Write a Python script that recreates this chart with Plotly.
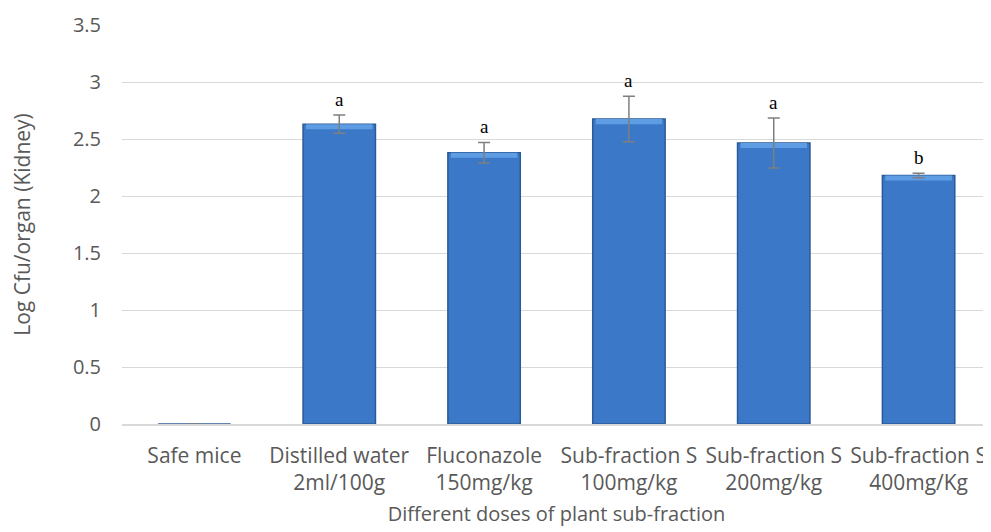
import plotly.graph_objects as go

categories = ["Safe mice", "Distilled water<br>2ml/100g", "Fluconazole<br>150mg/kg",
              "Sub-fraction S<br>100mg/kg", "Sub-fraction S<br>200mg/kg", "Sub-fraction S<br>400mg/Kg"]
means = [0, 2.63, 2.38, 2.675, 2.465, 2.18]
errors = [0, 0.08, 0.09, 0.20, 0.22, 0.02]
letters = ["", "a", "a", "a", "a", "b"]

bevel = 0.045
hl_base = [m - bevel if m > 0 else 0 for m in means]
hl_h = [bevel if m > 0 else 0 for m in means]

fig = go.Figure()
fig.add_trace(go.Bar(
    x=categories, y=means,
    marker=dict(color="#3b78c8", line=dict(color="#2c5a96", width=1.5)),
    width=0.5, hoverinfo="skip",
))
fig.add_trace(go.Bar(
    x=categories, y=hl_h, base=hl_base,
    marker=dict(color="#5e9de4", line=dict(width=0)),
    width=0.46, hoverinfo="skip",
))
fig.add_trace(go.Scatter(
    x=categories, y=means, mode="markers", marker=dict(size=1, opacity=0),
    error_y=dict(type="data", array=errors, visible=True, color="#7f7f7f", thickness=1.5, width=6),
))

for c, m, e, l in zip(categories, means, errors, letters):
    if l:
        fig.add_annotation(x=c, y=m + e, text=l, showarrow=False, yanchor="bottom", yshift=3,
                           font=dict(family="Liberation Serif", size=19, color="black"))

fig.update_layout(
    width=991, height=532,
    margin=dict(l=114, r=8, t=17, b=116),
    paper_bgcolor="white", plot_bgcolor="white",
    showlegend=False, barmode="overlay",
    font=dict(family="Open Sans", color="#595959", size=21),
    xaxis=dict(title=dict(text="Different doses of plant sub-fraction", standoff=12,
                          font=dict(size=20, color="#595959")),
               showgrid=False, showline=True, linecolor="#d9d9d9", linewidth=1.5,
               tickfont=dict(size=21, color="#595959"), range=[-0.5, 5.5],
               ticklabelstandoff=12, automargin=False),
    yaxis=dict(title=dict(text="Log Cfu/organ (Kidney)", standoff=44,
                          font=dict(size=21, color="#595959")),
               range=[0, 3.5], dtick=0.5, showgrid=True, gridcolor="#d9d9d9", gridwidth=1,
               zeroline=False, tickfont=dict(size=20, color="#595959"),
               ticklabelstandoff=20, automargin=False),
)

fig.write_html("out.html")
